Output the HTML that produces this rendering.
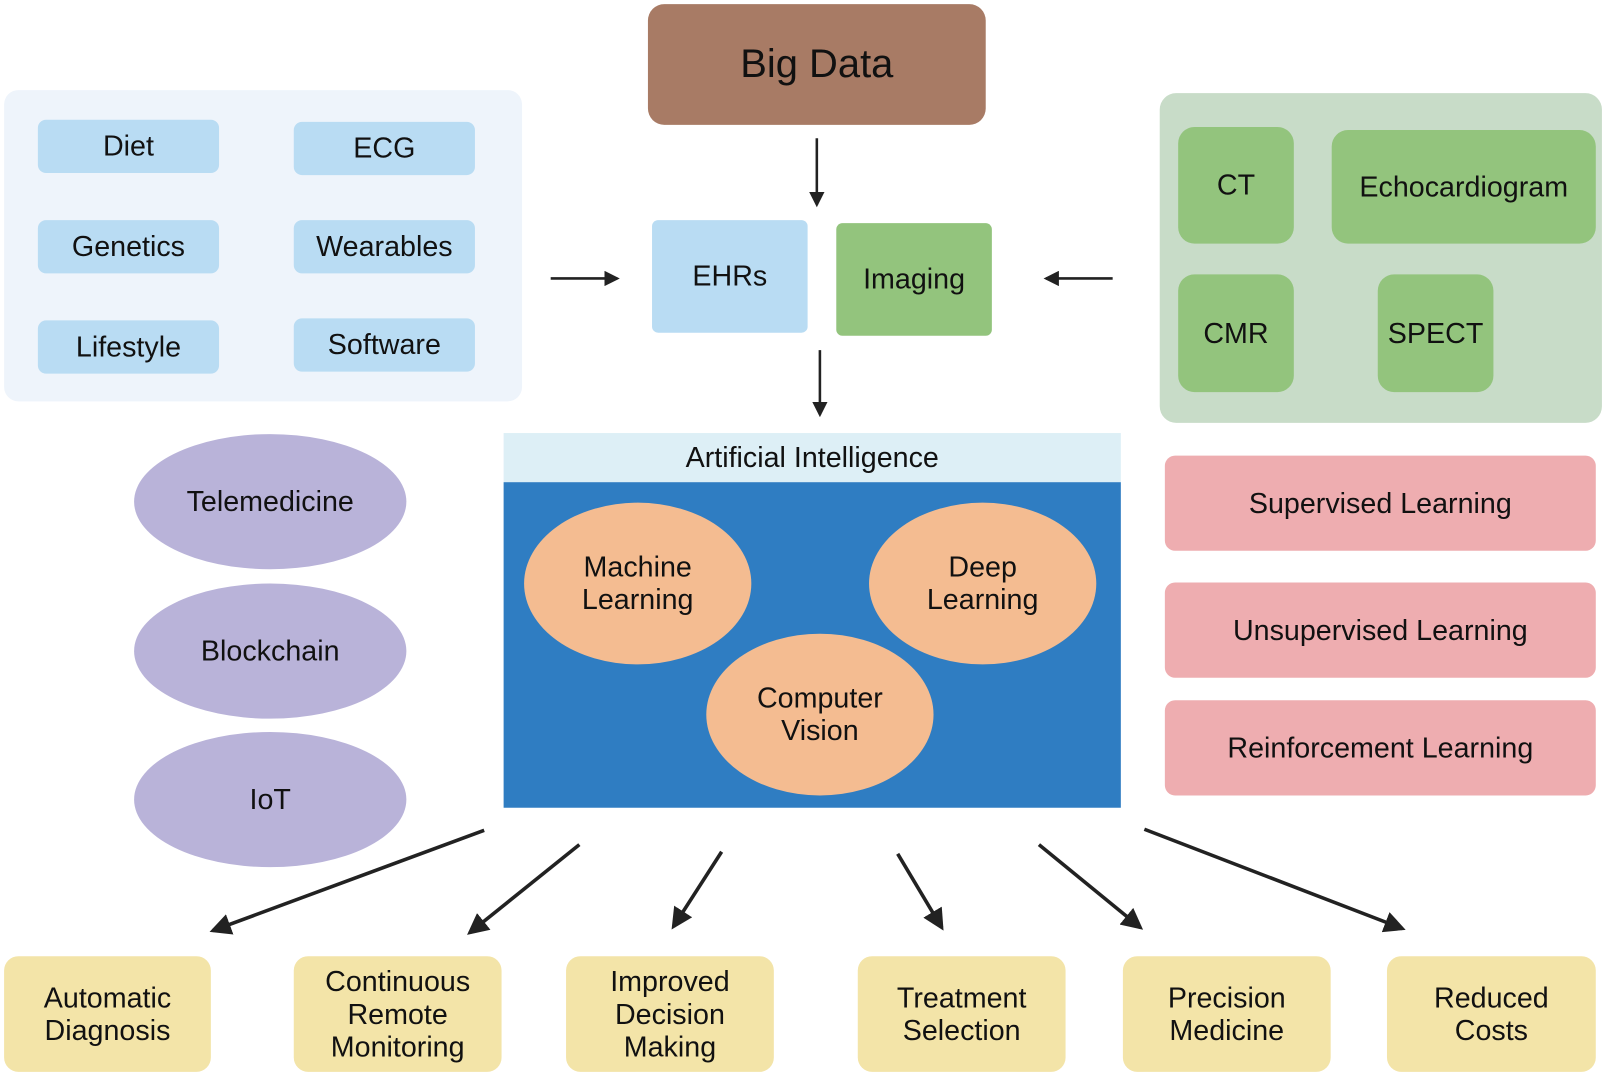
<!DOCTYPE html>
<html><head><meta charset="utf-8"><style>
html,body{margin:0;padding:0;background:#fff;overflow:hidden;width:1605px;height:1077px}
#w{position:absolute;left:0;top:0;width:1568px;height:1052px;transform:scale(1.02360,1.02376);transform-origin:0 0;font-family:"Liberation Sans",sans-serif;color:#111}
.b{position:absolute;display:flex;align-items:center;justify-content:center;text-align:center;font-size:28px;line-height:32px;box-sizing:border-box}
.bl{background:#b9dcf3;border-radius:8px}
.gr{background:#93c47d;border-radius:16px}
.pk{background:#eeadb0;border-radius:10px}
.yl{background:#f3e4a8;border-radius:14px}
.el{position:absolute;border-radius:50%;display:flex;align-items:center;justify-content:center;text-align:center;font-size:28px;line-height:32px}
</style></head><body><div id="w">
<div class="b" style="left:633px;top:4px;width:330px;height:118px;background:#a87b65;border-radius:16px;font-size:39px">Big Data</div>
<div class="b" style="left:4px;top:88px;width:506px;height:304px;background:#eef4fb;border-radius:14px"></div>
<div class="b bl" style="left:37px;top:117px;width:177px;height:52px">Diet</div>
<div class="b bl" style="left:287px;top:119px;width:177px;height:52px">ECG</div>
<div class="b bl" style="left:37px;top:215px;width:177px;height:52px">Genetics</div>
<div class="b bl" style="left:287px;top:215px;width:177px;height:52px">Wearables</div>
<div class="b bl" style="left:37px;top:313px;width:177px;height:52px">Lifestyle</div>
<div class="b bl" style="left:287px;top:311px;width:177px;height:52px">Software</div>
<div class="b bl" style="left:637px;top:215px;width:152px;height:110px;border-radius:6px">EHRs</div>
<div class="b gr" style="left:817px;top:218px;width:152px;height:110px;border-radius:6px">Imaging</div>
<div class="b" style="left:1133px;top:91px;width:432px;height:322px;background:#c8dcc8;border-radius:16px"></div>
<div class="b gr" style="left:1151px;top:124px;width:113px;height:114px">CT</div>
<div class="b gr" style="left:1301px;top:127px;width:258px;height:111px">Echocardiogram</div>
<div class="b gr" style="left:1151px;top:268px;width:113px;height:115px">CMR</div>
<div class="b gr" style="left:1346px;top:268px;width:113px;height:115px">SPECT</div>
<div class="b" style="left:492px;top:423px;width:603px;height:48px;background:#ddeff6">Artificial Intelligence</div>
<div class="b" style="left:492px;top:471px;width:603px;height:318px;background:#2f7dc2"></div>
<div class="el" style="left:512px;top:491px;width:222px;height:158px;background:#f4bc91">Machine<br>Learning</div>
<div class="el" style="left:849px;top:491px;width:222px;height:158px;background:#f4bc91">Deep<br>Learning</div>
<div class="el" style="left:690px;top:619px;width:222px;height:158px;background:#f4bc91">Computer<br>Vision</div>
<div class="el" style="left:131px;top:424px;width:266px;height:132px;background:#b9b3d9">Telemedicine</div>
<div class="el" style="left:131px;top:570px;width:266px;height:132px;background:#b9b3d9">Blockchain</div>
<div class="el" style="left:131px;top:715px;width:266px;height:132px;background:#b9b3d9">IoT</div>
<div class="b pk" style="left:1138px;top:445px;width:421px;height:93px">Supervised Learning</div>
<div class="b pk" style="left:1138px;top:569px;width:421px;height:93px">Unsupervised Learning</div>
<div class="b pk" style="left:1138px;top:684px;width:421px;height:93px">Reinforcement Learning</div>
<div class="b yl" style="left:4px;top:934px;width:202px;height:113px">Automatic<br>Diagnosis</div>
<div class="b yl" style="left:287px;top:934px;width:203px;height:113px">Continuous<br>Remote<br>Monitoring</div>
<div class="b yl" style="left:553px;top:934px;width:203px;height:113px">Improved<br>Decision<br>Making</div>
<div class="b yl" style="left:838px;top:934px;width:203px;height:113px">Treatment<br>Selection</div>
<div class="b yl" style="left:1097px;top:934px;width:203px;height:113px">Precision<br>Medicine</div>
<div class="b yl" style="left:1355px;top:934px;width:204px;height:113px">Reduced<br>Costs</div>
<svg style="position:absolute;left:0;top:0" width="1568" height="1052">
<defs><marker id="a" markerWidth="6" markerHeight="6" refX="5" refY="3" orient="auto" markerUnits="strokeWidth"><path d="M0,0 L6,3 L0,6 z" fill="#222"/></marker></defs>
<g stroke="#222" fill="none">
<line x1="798" y1="135" x2="798" y2="200" stroke-width="2.5" marker-end="url(#a)"/>
<line x1="801" y1="342" x2="801" y2="405" stroke-width="2.5" marker-end="url(#a)"/>
<line x1="538" y1="272" x2="603" y2="272" stroke-width="2.5" marker-end="url(#a)"/>
<line x1="1087" y1="272" x2="1022" y2="272" stroke-width="2.5" marker-end="url(#a)"/>
<line x1="473" y1="811" x2="208" y2="909" stroke-width="3.5" marker-end="url(#a)"/>
<line x1="566" y1="825" x2="459" y2="911" stroke-width="3.5" marker-end="url(#a)"/>
<line x1="705" y1="832" x2="658" y2="905" stroke-width="3.5" marker-end="url(#a)"/>
<line x1="877" y1="834" x2="920" y2="906" stroke-width="3.5" marker-end="url(#a)"/>
<line x1="1015" y1="825" x2="1114" y2="906" stroke-width="3.5" marker-end="url(#a)"/>
<line x1="1118" y1="810" x2="1370" y2="907" stroke-width="3.5" marker-end="url(#a)"/>
</g></svg>
</div></body></html>
